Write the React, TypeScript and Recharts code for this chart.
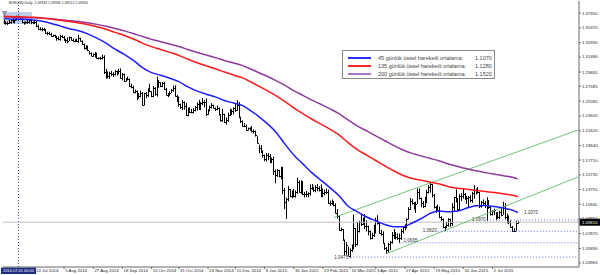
import React from 'react';
import { ComposedChart, Bar, Line, XAxis, YAxis, ReferenceLine, ReferenceArea, ReferenceDot } from 'recharts';

const FONT = '"Liberation Sans", Arial, sans-serif';

// EURUSD günlük mumlar, 19 Haz 2014 - 22 Tem 2015 (fiyat x 10000)
const CLOSE = [
  13610, 13605, 13605, 13610, 13645, 13620, 13645, 13690, 13680, 13655, // 0
  13610, 13595, 13610, 13615, 13640, 13610, 13605, 13610, 13565, 13525, // 10
  13525, 13525, 13520, 13465, 13465, 13460, 13430, 13440, 13415, 13395, // 20
  13390, 13430, 13415, 13375, 13375, 13360, 13410, 13380, 13365, 13365, // 30
  13365, 13400, 13365, 13320, 13265, 13285, 13240, 13195, 13165, 13185, // 40
  13180, 13130, 13130, 13130, 13150, 12945, 12950, 12890, 12940, 12920, // 50
  12920, 12965, 12950, 12960, 12865, 12920, 12830, 12850, 12850, 12760, // 60
  12750, 12685, 12690, 12630, 12625, 12670, 12510, 12660, 12645, 12710, // 70
  12690, 12630, 12740, 12650, 12815, 12810, 12760, 12800, 12715, 12645, // 80
  12650, 12670, 12700, 12735, 12630, 12610, 12525, 12480, 12545, 12490, // 90
  12375, 12455, 12410, 12410, 12440, 12475, 12525, 12450, 12535, 12545, // 100
  12545, 12390, 12440, 12475, 12505, 12465, 12450, 12470, 12380, 12310, // 110
  12380, 12285, 12305, 12375, 12440, 12420, 12460, 12440, 12505, 12345, // 120
  12290, 12225, 12225, 12170, 12195, 12185, 12155, 12155, 12100, 12000, // 130
  11935, 11890, 11840, 11790, 11840, 11830, 11775, 11780, 11630, 11565, // 140
  11640, 11560, 11610, 11365, 11205, 11245, 11380, 11290, 11320, 11290, // 150
  11345, 11480, 11345, 11480, 11315, 11320, 11315, 11330, 11400, 11390, // 160
  11375, 11410, 11400, 11375, 11380, 11330, 11340, 11345, 11195, 11195, // 170
  11180, 11175, 11070, 11030, 10840, 10850, 10700, 10550, 10630, 10495, // 180
  10570, 10595, 10860, 10655, 10825, 10940, 10920, 10965, 10885, 10890, // 190
  10830, 10730, 10765, 10880, 10970, 10925, 10800, 10780, 10660, 10600, // 200
  10570, 10650, 10680, 10765, 10805, 10740, 10730, 10730, 10825, 10875, // 210
  10880, 10985, 11120, 11225, 11200, 11145, 11190, 11345, 11265, 11200, // 220
  11155, 11215, 11345, 11405, 11450, 11310, 11140, 11095, 11105, 11015, // 230
  10980, 10875, 10875, 10905, 10985, 10925, 11150, 11280, 11240, 11115, // 240
  11290, 11290, 11315, 11260, 11265, 11280, 11240, 11330, 11365, 11350, // 250
  11340, 11160, 11210, 11200, 11165, 11235, 11150, 11055, 11085, 11110, // 260
  11060, 11005, 11080, 11040, 11160, 11005, 11000, 10950, 10875, 10830, // 270
  10830, 10933, 10941, // 280
];
const HIGH = [
  13645, 13625, 13620, 13645, 13650, 13660, 13660, 13700, 13700, 13690,
  13670, 13620, 13625, 13645, 13650, 13650, 13620, 13640, 13625, 13580,
  13545, 13540, 13535, 13520, 13485, 13485, 13470, 13445, 13445, 13430,
  13420, 13445, 13440, 13430, 13390, 13410, 13420, 13415, 13395, 13385,
  13395, 13445, 13405, 13370, 13325, 13305, 13300, 13225, 13210, 13195,
  13215, 13205, 13145, 13150, 13180, 13170, 12990, 12955, 12950, 12960,
  12945, 12975, 12965, 12990, 12995, 12935, 12925, 12865, 12885, 12860,
  12790, 12765, 12710, 12700, 12665, 12700, 12680, 12670, 12680, 12730,
  12790, 12690, 12760, 12745, 12885, 12840, 12810, 12815, 12815, 12735,
  12665, 12690, 12720, 12765, 12770, 12640, 12620, 12525, 12575, 12555,
  12535, 12470, 12475, 12455, 12465, 12490, 12540, 12575, 12545, 12600,
  12570, 12595, 12450, 12500, 12530, 12510, 12475, 12500, 12475, 12385,
  12455, 12390, 12340, 12405, 12455, 12450, 12475, 12520, 12570, 12545,
  12350, 12300, 12265, 12245, 12205, 12210, 12225, 12180, 12165, 12090,
  11975, 11970, 11900, 11845, 11865, 11865, 11850, 11805, 11815, 11645,
  11650, 11640, 11680, 11680, 11400, 11270, 11425, 11385, 11365, 11385,
  11365, 11535, 11500, 11500, 11490, 11345, 11360, 11340, 11445, 11450,
  11415, 11435, 11450, 11420, 11445, 11390, 11375, 11390, 11375, 11230,
  11245, 11225, 11195, 11115, 11030, 10870, 10850, 10710, 10675, 10615,
  10590, 10645, 11045, 10865, 10945, 10960, 11050, 11000, 11050, 10965,
  10895, 10830, 10800, 10905, 11000, 11035, 10935, 10840, 10820, 10665,
  10610, 10665, 10690, 10810, 10850, 10805, 10790, 10790, 10850, 10885,
  10915, 10995, 11140, 11265, 11250, 11210, 11215, 11390, 11390, 11270,
  11225, 11280, 11375, 11435, 11465, 11450, 11320, 11160, 11175, 11150,
  11020, 10990, 10890, 10945, 10995, 10990, 11195, 11280, 11380, 11265,
  11315, 11330, 11385, 11330, 11290, 11290, 11305, 11345, 11435, 11390,
  11410, 11345, 11225, 11245, 11225, 11275, 11235, 11155, 11100, 11120,
  11075, 11075, 11095, 11125, 11215, 11195, 11055, 11030, 10965, 10890,
  10860, 10960, 10960,
];
const LOW = [
  13585, 13580, 13575, 13590, 13590, 13605, 13595, 13635, 13665, 13640,
  13595, 13580, 13585, 13590, 13595, 13585, 13585, 13590, 13545, 13515,
  13500, 13490, 13495, 13455, 13440, 13445, 13420, 13415, 13405, 13365,
  13370, 13365, 13400, 13365, 13335, 13330, 13360, 13370, 13355, 13345,
  13350, 13335, 13355, 13310, 13250, 13245, 13225, 13180, 13160, 13150,
  13140, 13125, 13115, 13110, 13115, 12920, 12860, 12860, 12855, 12890,
  12880, 12900, 12900, 12915, 12860, 12835, 12815, 12820, 12835, 12750,
  12730, 12665, 12660, 12570, 12590, 12610, 12500, 12500, 12600, 12615,
  12680, 12610, 12610, 12630, 12620, 12735, 12745, 12745, 12705, 12640,
  12610, 12630, 12665, 12685, 12620, 12545, 12485, 12455, 12440, 12445,
  12360, 12355, 12400, 12395, 12395, 12420, 12430, 12445, 12445, 12505,
  12475, 12360, 12375, 12420, 12460, 12460, 12425, 12435, 12365, 12285,
  12280, 12270, 12245, 12280, 12360, 12375, 12380, 12415, 12430, 12330,
  12265, 12220, 12210, 12165, 12165, 12160, 12140, 12125, 12085, 11995,
  11860, 11865, 11805, 11755, 11750, 11770, 11730, 11730, 11570, 11460,
  11545, 11540, 11515, 11315, 11115, 10985, 11220, 11275, 11260, 11275,
  11270, 11320, 11335, 11320, 11305, 11270, 11275, 11275, 11295, 11375,
  11345, 11340, 11355, 11350, 11275, 11275, 11300, 11315, 11185, 11160,
  11175, 11155, 11060, 10990, 10825, 10820, 10695, 10495, 10505, 10490,
  10460, 10545, 10580, 10610, 10630, 10805, 10890, 10905, 10850, 10815,
  10765, 10710, 10715, 10745, 10790, 10910, 10785, 10760, 10655, 10570,
  10520, 10535, 10565, 10655, 10715, 10710, 10705, 10665, 10705, 10790,
  10830, 10860, 10975, 11105, 11175, 11110, 11065, 11185, 11245, 11140,
  11130, 11140, 11210, 11325, 11335, 11270, 11125, 11065, 11080, 10995,
  10960, 10865, 10820, 10860, 10880, 10880, 10890, 11095, 11205, 11090,
  11100, 11225, 11255, 11240, 11185, 11135, 11210, 11200, 11255, 11310,
  11325, 11130, 11135, 11165, 11130, 10955, 11120, 11030, 11030, 11035,
  10965, 10985, 10985, 11020, 11040, 10985, 10925, 10915, 10870, 10810,
  10810, 10820, 10921,
];

// hareketli ortalamalar, haftalık okunan noktalar (mum sırası)
const MA_IDX = [
  0, 6, 11, 16, 21, 26, 31, 36, 41, 46,
  51, 56, 61, 66, 71, 76, 81, 86, 91, 96,
  101, 106, 111, 116, 121, 126, 131, 135, 139, 144,
  149, 154, 159, 164, 169, 174, 179, 184, 189, 194,
  199, 204, 209, 214, 219, 224, 229, 234, 239, 244,
  249, 254, 259, 264, 269, 274, 279, 282,
];
const EMA45 = [
  1.3660, 1.3652, 1.3650, 1.3642, 1.3624, 1.3595, 1.3560, 1.3526, 1.3497, 1.3456,
  1.3399, 1.3333, 1.3253, 1.3182, 1.3102, 1.3006, 1.2939, 1.2903, 1.2863, 1.2818,
  1.2748, 1.2691, 1.2651, 1.2615, 1.2566, 1.2533, 1.2498, 1.2436, 1.2369, 1.2267,
  1.2150, 1.1990, 1.1840, 1.1720, 1.1600, 1.1500, 1.1400, 1.1290, 1.1150, 1.1080,
  1.1010, 1.0960, 1.0910, 1.0880, 1.0880, 1.0930, 1.0990, 1.1060, 1.1090, 1.1080,
  1.1090, 1.1130, 1.1160, 1.1165, 1.1150, 1.1130, 1.1100, 1.1070,
];
const EMA135 = [
  1.3690, 1.3685, 1.3682, 1.3677, 1.3668, 1.3655, 1.3638, 1.3620, 1.3603, 1.3581,
  1.3552, 1.3518, 1.3476, 1.3435, 1.3388, 1.3333, 1.3286, 1.3248, 1.3209, 1.3168,
  1.3118, 1.3071, 1.3030, 1.2990, 1.2946, 1.2907, 1.2868, 1.2820, 1.2769, 1.2704,
  1.2636, 1.2556, 1.2467, 1.2390, 1.2316, 1.2250, 1.2181, 1.2104, 1.2000, 1.1907,
  1.1837, 1.1765, 1.1693, 1.1625, 1.1565, 1.1525, 1.1500, 1.1475, 1.1450, 1.1415,
  1.1395, 1.1382, 1.1365, 1.1352, 1.1338, 1.1320, 1.1300, 1.1280,
];
const EMA200 = [
  1.3680, 1.3677, 1.3675, 1.3672, 1.3666, 1.3657, 1.3645, 1.3633, 1.3620, 1.3604,
  1.3583, 1.3558, 1.3527, 1.3496, 1.3461, 1.3420, 1.3383, 1.3352, 1.3320, 1.3287,
  1.3247, 1.3208, 1.3173, 1.3139, 1.3101, 1.3067, 1.3032, 1.2991, 1.2947, 1.2894,
  1.2836, 1.2771, 1.2699, 1.2635, 1.2572, 1.2514, 1.2454, 1.2388, 1.2303, 1.2224,
  1.2160, 1.2095, 1.2029, 1.1963, 1.1905, 1.1860, 1.1825, 1.1792, 1.1758, 1.1718,
  1.1685, 1.1655, 1.1628, 1.1603, 1.1582, 1.1562, 1.1542, 1.1520,
];

const PRICE_TICKS = [
  1.3735, 1.3537, 1.3339, 1.3148, 1.29465, 1.27585, 1.2558, 1.236, 1.2162,
  1.1964, 1.1771, 1.15735, 1.13755, 1.118, 1.09865, 1.0787, 1.0589, 1.03965,
];

const DATE_TICKS = [17, 33, 49, 65, 81, 96, 112, 127, 143, 159, 175, 190, 204, 220, 236, 252, 268];
const DATE_LABELS = [
  '14 Jul 2014', '5 Aug 2014', '27 Aug 2014', '18 Sep 2014', '10 Oct 2014', '31 Oct 2014',
  '24 Nov 2014', '15 Dec 2014', '8 Jan 2015', '30 Jan 2015', '23 Feb 2015', '16 Mar 2015',
  '3 Apr 2015', '27 Apr 2015', '19 May 2015', '10 Jun 2015', '2 Jul 2015',
];

// destek seviyeleri ve kanal çizgileri
const LEVEL_PRICE = [1.0475, 1.0665, 1.082, 1.097];
const LEVEL_FROM = [190, 217, 238, 265];
const CHANNEL_UP = [{ x: 181, y: 1.1003 }, { x: 315, y: 1.2172 }];
const CHANNEL_LOW = [{ x: 210, y: 1.052 }, { x: 315, y: 1.1545 }];

const SLOTS = 316;
const LAST = CLOSE.length - 1;

type Row = { i: number; hl?: number[]; high?: number; low?: number; close?: number; ema45?: number; ema135?: number; ema200?: number };
const rows: Row[] = Array.from({ length: SLOTS }, (_, i) => ({ i }));
CLOSE.forEach((c, i) => {
  rows[i].hl = [LOW[i] / 1e4, HIGH[i] / 1e4];
  rows[i].high = HIGH[i] / 1e4;
  rows[i].low = LOW[i] / 1e4;
  rows[i].close = c / 1e4;
});
MA_IDX.forEach((idx, k) => {
  rows[idx].ema45 = EMA45[k];
  rows[idx].ema135 = EMA135[k];
  rows[idx].ema200 = EMA200[k];
});

const OhlcBar = (props: any) => {
  const { x, y, width, height, payload } = props;
  if (!payload || payload.close == null || !isFinite(y)) return null;
  const cx = Math.round(x + width / 2) + 0.5;
  const span = payload.high - payload.low || 1;
  const cy = Math.round(y + ((payload.high - payload.close) / span) * height) + 0.5;
  return (
    <g>
      <line x1={cx} x2={cx} y1={y} y2={y + Math.max(height, 1)} stroke="#000" strokeWidth={1} />
      <line x1={cx} x2={cx + 1.5} y1={cy} y2={cy} stroke="#000" strokeWidth={1} />
    </g>
  );
};

const DateTick = ({ x, y, payload }: any) => {
  const k = DATE_TICKS.indexOf(payload.value);
  return (
    <g>
      <line x1={x} x2={x} y1={y} y2={y + 2} stroke="#555" strokeWidth={0.8} />
      <text x={x + 1.2} y={y + 5.4} fontSize={4.3} fontFamily={FONT} fill="#222">{DATE_LABELS[k]}</text>
    </g>
  );
};

const PriceTick = ({ x, y, payload }: any) => (
  <g>
    <line x1={x} x2={x + 2} y1={y} y2={y} stroke="#555" strokeWidth={0.8} />
    <text x={x + 3} y={y + 1.5} fontSize={4.3} fontFamily={FONT} fill="#222">{payload.value.toFixed(5)}</text>
  </g>
);

const CrossDateLabel = ({ viewBox }: any) => {
  const cx = viewBox.x;
  const bottom = viewBox.y + viewBox.height;
  return (
    <g>
      <rect x={cx - 17.5} y={bottom + 0.5} width={35} height={6.5} fill="#1b2d80" />
      <text x={cx} y={bottom + 5.2} textAnchor="middle" fontSize={4} fontFamily={FONT} fill="#fff">2014.07.01 00:00</text>
    </g>
  );
};

const PriceTag = ({ viewBox }: any) => {
  const right = viewBox.x + viewBox.width;
  return (
    <g>
      <rect x={right + 0.5} y={viewBox.y - 3.5} width={21} height={7} fill="#000" />
      <text x={right + 3} y={viewBox.y + 1.6} fontSize={4.3} fontFamily={FONT} fill="#fff">{(CLOSE[LAST] / 1e4).toFixed(5)}</text>
    </g>
  );
};

const tagAt = (text: string, dx: number, dy: number, anchor: string) => ({ viewBox }: any) => (
  <text x={viewBox.x + viewBox.width / 2 + dx} y={viewBox.y + viewBox.height / 2 + dy} textAnchor={anchor}
    fontSize={4.6} fontFamily={FONT} fill="#333">{text}</text>
);

const LEGEND = [
  { name: '45 günlük üssel hareketli ortalama:', value: EMA45[EMA45.length - 1], color: '#2b2bff' },
  { name: '135 günlük üssel hareketli ortalama:', value: EMA135[EMA135.length - 1], color: '#ff2222' },
  { name: '200 günlük üssel hareketli ortalama:', value: EMA200[EMA200.length - 1], color: '#b073c4' },
];

export default function App() {
  return (
    <div style={{ position: 'fixed', left: 0, top: 0, width: 600, height: 275, background: '#fff' }}>
      <ComposedChart width={600} height={275} data={rows} margin={{ top: 1, right: 0, bottom: 0, left: 3 }}>
        <XAxis dataKey="i" type="category" ticks={DATE_TICKS} interval={0} tick={<DateTick />}
          tickLine={false} tickSize={0} tickMargin={0} height={8} axisLine={{ stroke: '#666' }} />
        <YAxis orientation="right" type="number" domain={[1.03426, 1.38953]} allowDataOverflow ticks={PRICE_TICKS}
          interval={0} tick={<PriceTick />} tickLine={false} tickSize={0} tickMargin={0} width={21} axisLine={{ stroke: '#666' }} />
        <ReferenceArea x1={0} x2={15} y1={1.3588} y2={1.3748} fill="#a9bedd" fillOpacity={0.75} stroke="none" />
        <ReferenceLine x={8} stroke="#3a4fd0" strokeDasharray="1 2" label={<CrossDateLabel />} />
        <ReferenceLine y={CLOSE[LAST] / 1e4} stroke="#bdbdbd" label={<PriceTag />} />
        {LEVEL_PRICE.map((p, k) => (
          <ReferenceLine key={p} segment={[{ x: LEVEL_FROM[k], y: p }, { x: SLOTS - 1, y: p }]}
            stroke="#5a6fe0" strokeDasharray="1 2" />
        ))}
        <ReferenceLine segment={CHANNEL_UP} stroke="#66bb66" strokeWidth={0.9} />
        <ReferenceLine segment={CHANNEL_LOW} stroke="#66bb66" strokeWidth={0.9} />
        <Bar dataKey="hl" barSize={1} isAnimationActive={false} shape={(p: any) => <OhlcBar {...p} />} />
        <Line dataKey="ema200" type="monotone" stroke="#8e3a9e" strokeWidth={1.5} dot={false} activeDot={false} connectNulls isAnimationActive={false} />
        <Line dataKey="ema135" type="monotone" stroke="#ff1a1a" strokeWidth={1.5} dot={false} activeDot={false} connectNulls isAnimationActive={false} />
        <Line dataKey="ema45" type="monotone" stroke="#1f1fff" strokeWidth={1.5} dot={false} activeDot={false} connectNulls isAnimationActive={false} />
        <ReferenceDot x={LEVEL_FROM[0]} y={LEVEL_PRICE[0]} r={0} fill="none" stroke="none" label={tagAt('1.0475', -2, 1.5, 'end')} />
        <ReferenceDot x={LEVEL_FROM[1]} y={LEVEL_PRICE[1]} r={0} fill="none" stroke="none" label={tagAt('1.0665', 4, -1, 'start')} />
        <ReferenceDot x={LEVEL_FROM[2]} y={LEVEL_PRICE[2]} r={0} fill="none" stroke="none" label={tagAt('1.0820', -1, 1, 'end')} />
        <ReferenceDot x={LEVEL_FROM[3]} y={LEVEL_PRICE[3]} r={0} fill="none" stroke="none" label={tagAt('1.0970', -1, 1, 'end')} />
        <ReferenceDot x={LAST} y={EMA45[EMA45.length - 1]} r={0} fill="none" stroke="none" label={tagAt('1.1070', 6, 1.5, 'start')} />
      </ComposedChart>

      <div style={{ position: 'absolute', left: 2, top: 1.5, width: 5, height: 5 }}>
        <svg width={5} height={5}><path d="M0.5 0.5 L4.5 0.5 L2.5 4.5 Z" fill="#9aa8c8" stroke="#556" strokeWidth={0.5} /></svg>
      </div>
      <div style={{ position: 'absolute', left: 9, top: 1, fontFamily: FONT, fontSize: 3.5, color: '#222', whiteSpace: 'pre' }}>
        {'EURUSD,Daily  1.09333 1.09596 1.09212 1.09410'}
      </div>

      <div style={{ position: 'absolute', left: 342, top: 50, width: 153, height: 29, background: '#fff',
        border: '1px solid #8a8a8a', fontFamily: FONT, fontSize: 5.5, color: '#444', boxSizing: 'border-box' }}>
        {LEGEND.map((l, k) => (
          <div key={k} style={{ position: 'absolute', left: 0, top: 2.5 + k * 8, height: 8, width: 150 }}>
            <div style={{ position: 'absolute', left: 5, top: 3, width: 23, height: 2, background: l.color }} />
            <div style={{ position: 'absolute', left: 35, top: 0, lineHeight: '8px', whiteSpace: 'nowrap' }}>{l.name}</div>
            <div style={{ position: 'absolute', left: 132, top: 0, lineHeight: '8px' }}>{l.value.toFixed(4)}</div>
          </div>
        ))}
      </div>
    </div>
  );
}
